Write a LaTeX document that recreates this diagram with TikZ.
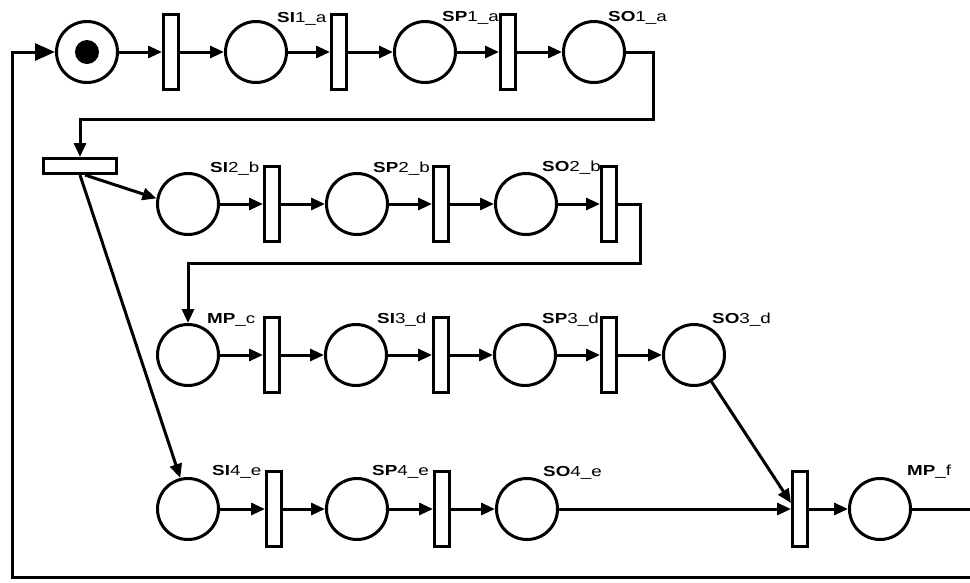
\documentclass[tikz,border=0pt]{standalone}
\usepackage{fontspec}
\setmainfont{Liberation Sans}
\usetikzlibrary{arrows.meta}
\newcommand{\plab}[2]{\scalebox{1.3}[1]{\textbf{#1}#2}}
\begin{document}
\begin{tikzpicture}[x=1pt,y=-1pt,
  place/.style={draw,circle,line width=3pt,minimum size=61pt,inner sep=0pt},
  trans/.style={draw,rectangle,line width=3pt,minimum width=15pt,minimum height=75pt,inner sep=0pt},
  htrans/.style={draw,rectangle,line width=3pt,minimum width=73pt,minimum height=15pt,inner sep=0pt},
  arc/.style={line width=3pt,-{Triangle[length=14pt,width=12pt]}},
  bigarc/.style={line width=3pt,-{Triangle[length=20pt,width=17pt]}},
  lab/.style={anchor=base west,inner sep=0pt,font=\fontsize{14.5}{16}\selectfont}]
\useasboundingbox (0,0) rectangle (970,582);
% row 1
\node[place] (p0) at (87,52) {};
\fill (p0) circle (12pt);
\node[trans] (t1) at (171,52) {};
\node[place] (p1) at (256,52) {};
\node[trans] (t2) at (339,52) {};
\node[place] (p2) at (425,52) {};
\node[trans] (t3) at (508,52) {};
\node[place] (p3) at (594,52) {};
\node[lab] (l1) at (277,22) {\plab{SI}{1\_a}};
\node[lab] (l2) at (442,21) {\plab{SP}{1\_a}};
\node[lab] (l3) at (608,21) {\plab{SO}{1\_a}};
% fork transition
\node[htrans] (t4) at (80,166) {};
% row 2
\node[place] (p4) at (188,204) {};
\node[trans] (t5) at (272,204) {};
\node[place] (p5) at (357,204) {};
\node[trans] (t6) at (441,204) {};
\node[place] (p6) at (526,204) {};
\node[trans] (t7) at (609,204) {};
\node[lab] (l4) at (210,172) {\plab{SI}{2\_b}};
\node[lab] (l5) at (373,172) {\plab{SP}{2\_b}};
\node[lab] (l6) at (542,171) {\plab{SO}{2\_b}};
% row 3
\node[place] (p7) at (188,355) {};
\node[trans] (t8) at (272,355) {};
\node[place] (p8) at (356,355) {};
\node[trans] (t9) at (441,355) {};
\node[place] (p9) at (525,355) {};
\node[trans] (t10) at (609,355) {};
\node[place] (p10) at (694,355) {};
\node[lab] (l7) at (207,323) {\plab{MP}{\_c}};
\node[lab] (l8) at (377,323) {\plab{SI}{3\_d}};
\node[lab] (l9) at (542,323) {\plab{SP}{3\_d}};
\node[lab] (l10) at (712,323) {\plab{SO}{3\_d}};
% row 4
\node[place] (p11) at (188,509) {};
\node[trans] (t11) at (274,509) {};
\node[place] (p12) at (357,509) {};
\node[trans] (t12) at (442,509) {};
\node[place] (p13) at (527,509) {};
\node[trans] (t13) at (800,509) {};
\node[place] (p14) at (880,509) {};
\node[lab] (l11) at (212,475) {\plab{SI}{4\_e}};
\node[lab] (l12) at (372,475) {\plab{SP}{4\_e}};
\node[lab] (l13) at (543,476) {\plab{SO}{4\_e}};
\node[lab] (l14) at (907,475) {\plab{MP}{\_f}};
% corner coordinates
\coordinate (c1) at (653,119);
\coordinate (c2) at (640,263);
\coordinate (r1) at (985,577);
\coordinate (r2) at (12,52);
% row 1 arcs
\draw[arc] (p0) -- (t1);
\draw[arc] (t1) -- (p1);
\draw[arc] (p1) -- (t2);
\draw[arc] (t2) -- (p2);
\draw[arc] (p2) -- (t3);
\draw[arc] (t3) -- (p3);
\draw[arc] (p3.east) -| (c1) -| (t4.north);
% fork
\draw[arc] ([xshift=5pt]t4.south) -- (p4.170);
\draw[arc] (t4.south) -- (p11.104);
% row 2
\draw[arc] (p4) -- (t5);
\draw[arc] (t5) -- (p5);
\draw[arc] (p5) -- (t6);
\draw[arc] (t6) -- (p6);
\draw[arc] (p6) -- (t7);
\draw[arc] (t7.east) -| (c2) -| (p7.north);
% row 3
\draw[arc] (p7) -- (t8);
\draw[arc] (t8) -- (p8);
\draw[arc] (p8) -- (t9);
\draw[arc] (t9) -- (p9);
\draw[arc] (p9) -- (t10);
\draw[arc] (t10) -- (p10);
\draw[arc] (p10) -- ([yshift=6pt]t13.west);
% row 4
\draw[arc] (p11) -- (t11);
\draw[arc] (t11) -- (p12);
\draw[arc] (p12) -- (t12);
\draw[arc] (t12) -- (p13);
\draw[arc] (p13) -- (t13);
\draw[arc] (t13) -- (p14);
% loop back
\draw[bigarc] (p14.east) -| (r1) -| (r2) -- (p0.west);
\end{tikzpicture}
\end{document}
